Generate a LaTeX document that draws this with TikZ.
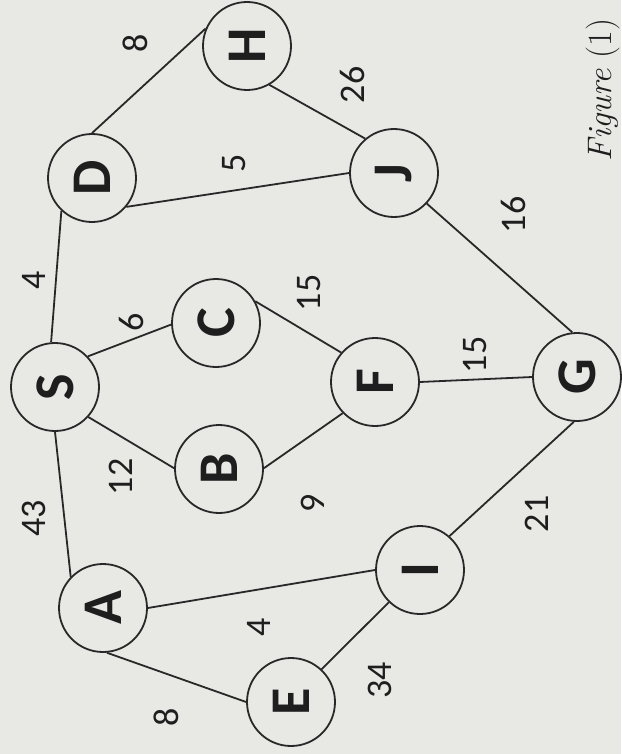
\documentclass[tikz,border=0pt]{standalone}
\usepackage{graphicx}
\usepackage{fontspec}
\newfontfamily\labfont{Carlito}
\newfontfamily\vfont{Carlito}[BoldFont=Carlito Bold]
\definecolor{bgc}{RGB}{232,232,229}
\definecolor{linec}{RGB}{40,40,40}
\definecolor{txtc}{RGB}{30,30,30}
\begin{document}
\begin{tikzpicture}[x=1pt,y=-1pt,
  vtx/.style={circle,draw=linec,line width=1.8pt,minimum size=88pt,inner sep=0pt,
    font=\vfont\bfseries\fontsize{56}{56}\selectfont,text=txtc},
  wlab/.style={rotate=90,font=\labfont\fontsize{36}{36}\selectfont,text=txtc,inner sep=0pt},
  edge/.style={draw=linec,line width=1.8pt}]
\fill[bgc] (0,0) rectangle (621,754);
\useasboundingbox (0,0) rectangle (621,754);
% vertices
\node[vtx] (H) at (247,46)  {\rotatebox{90}{H}};
\node[vtx] (D) at (92,178)  {\rotatebox{90}{D}};
\node[vtx] (J) at (394,173) {\rotatebox{90}{J}};
\node[vtx] (S) at (55,387)  {\rotatebox{90}{S}};
\node[vtx] (C) at (216,323) {\rotatebox{90}{C}};
\node[vtx] (B) at (219,469) {\rotatebox{90}{B}};
\node[vtx] (F) at (375,382) {\rotatebox{90}{F}};
\node[vtx] (G) at (577,377) {\rotatebox{90}{G}};
\node[vtx] (A) at (103,608) {\rotatebox{90}{A}};
\node[vtx] (I) at (420,570) {\rotatebox{90}{I}};
\node[vtx] (E) at (291,702) {\rotatebox{90}{E}};
% edges
\path[edge] (D.90) -- (H.157);
\path[edge] (H.300) -- (J.130);
\path[edge] (D.320) -- (J.180);
\path[edge] (J.317) -- (G.96);
\path[edge] (S.95) -- (D.227);
\path[edge] (S.43) -- (C.182);
\path[edge] (S.318) -- (B.179);
\path[edge] (C.29) -- (F.139);
\path[edge] (B.1) -- (F.224);
\path[edge] (F.0) -- (G.180);
\path[edge] (S.270) -- (A.136);
\path[edge] (A.0) -- (I.180);
\path[edge] (A.275) -- (E.180);
\path[edge] (E.47) -- (I.226);
\path[edge] (I.49) -- (G.266);
% weights
\node[wlab] (wDH) at (135,43)  {8};
\node[wlab] (wHJ) at (352,85)  {26};
\node[wlab] (wDJ) at (234,163) {5};
\node[wlab] (wJG) at (513,215) {16};
\node[wlab] (wSD) at (34,280)  {4};
\node[wlab] (wSC) at (131,322) {6};
\node[wlab] (wCF) at (309,293) {15};
\node[wlab] (wFG) at (475,355) {15};
\node[wlab] (wSB) at (121,477) {12};
\node[wlab] (wBF) at (313,503) {9};
\node[wlab] (wSA) at (34,518)  {43};
\node[wlab] (wAI) at (259,627) {4};
\node[wlab] (wEI) at (380,680) {34};
\node[wlab] (wAE) at (166,717) {8};
\node[wlab] (wIG) at (537,514) {21};
% caption
\node[rotate=90,font=\fontsize{34}{34}\selectfont,text=txtc,inner sep=0pt,anchor=base] (cap) at (611,90) {\textit{Figure} (1)};
\end{tikzpicture}
\end{document}
